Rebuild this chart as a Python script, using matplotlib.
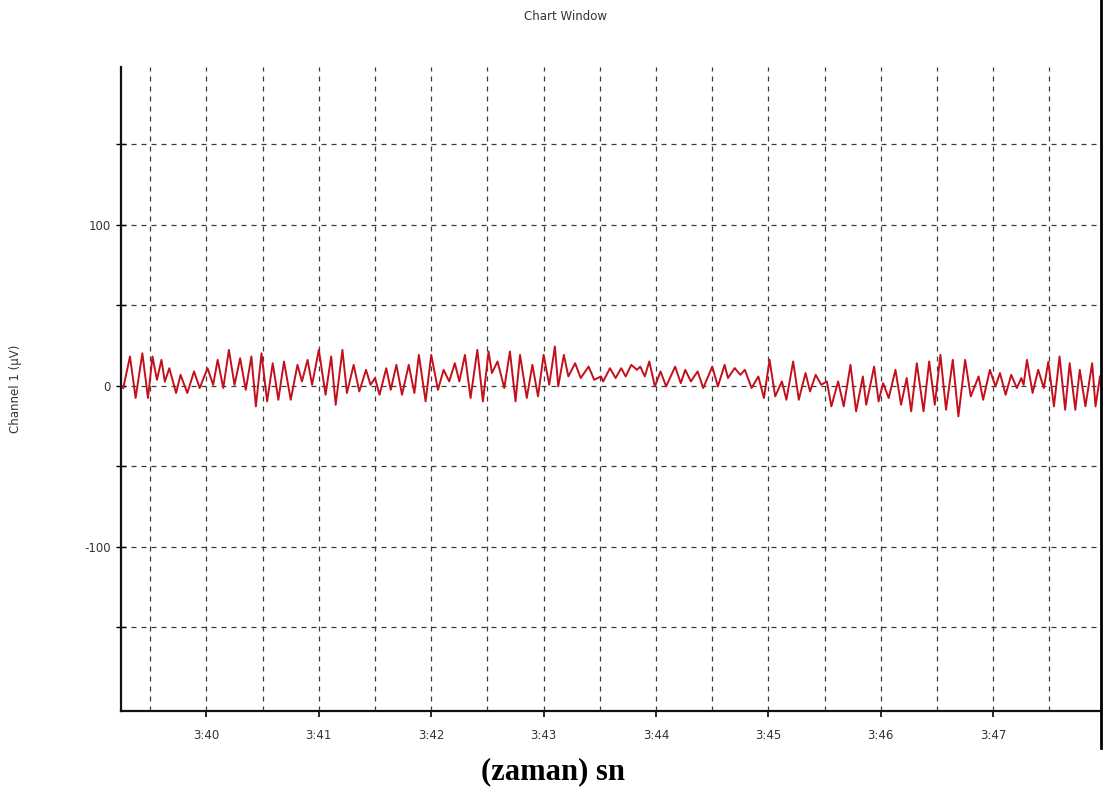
import matplotlib.pyplot as plt
from matplotlib.lines import Line2D
from matplotlib.ticker import FixedLocator, FuncFormatter

plt.rcParams['axes.unicode_minus'] = False

# Channel 1 trace: turning points of the EEG signal (time in s of the minute, value in uV)
t_sec = [219.26, 219.32, 219.37, 219.43, 219.48, 219.52, 219.56, 219.60, 219.63, 219.67,
         219.73, 219.77, 219.83, 219.89, 219.94, 220.01, 220.06, 220.10, 220.15, 220.20,
         220.25, 220.30, 220.35, 220.40, 220.44, 220.49, 220.54, 220.59, 220.64, 220.69,
         220.75, 220.81, 220.85, 220.90, 220.94, 221.00, 221.06, 221.11, 221.15, 221.21,
         221.25, 221.31, 221.36, 221.42, 221.46, 221.50, 221.54, 221.60, 221.64, 221.69,
         221.74, 221.80, 221.85, 221.89, 221.95, 222.00, 222.06, 222.11, 222.16, 222.21,
         222.25, 222.30, 222.35, 222.41, 222.46, 222.51, 222.54, 222.59, 222.65, 222.70,
         222.75, 222.79, 222.85, 222.90, 222.95, 223.00, 223.05, 223.10, 223.13, 223.18,
         223.22, 223.28, 223.33, 223.40, 223.45, 223.51, 223.53, 223.59, 223.64, 223.69,
         223.73, 223.78, 223.83, 223.86, 223.90, 223.94, 223.99, 224.04, 224.09, 224.17,
         224.22, 224.26, 224.31, 224.37, 224.42, 224.50, 224.55, 224.61, 224.64, 224.70,
         224.75, 224.79, 224.85, 224.91, 224.96, 225.01, 225.06, 225.12, 225.16, 225.22,
         225.27, 225.33, 225.37, 225.42, 225.47, 225.52, 225.56, 225.62, 225.67, 225.73,
         225.78, 225.84, 225.87, 225.94, 225.98, 226.02, 226.07, 226.13, 226.18, 226.23,
         226.27, 226.32, 226.38, 226.43, 226.48, 226.53, 226.58, 226.64, 226.69, 226.75,
         226.80, 226.87, 226.91, 226.97, 227.02, 227.06, 227.11, 227.16, 227.21, 227.25,
         227.27, 227.30, 227.35, 227.40, 227.45, 227.49, 227.54, 227.59, 227.64, 227.68,
         227.73, 227.77, 227.82, 227.88, 227.91, 227.95]
uv = [-1.4, 18.2, -7.6, 20.2, -7.6, 18.2, 3.7, 16.1, 2.5, 10.9,
      -4.5, 6.8, -4.5, 8.9, -1.4, 10.9, 0.6, 16.1, -1.4, 22.3,
      0.6, 17.1, -2.5, 18.2, -12.8, 20.2, -9.7, 14.0, -8.7, 15.1,
      -8.7, 13.0, 2.7, 16.1, 0.6, 22.3, -5.6, 18.2, -11.8, 22.3,
      -4.5, 13.0, -3.5, 9.9, 0.6, 4.8, -5.6, 10.9, -2.5, 13.0,
      -5.6, 13.0, -4.5, 19.2, -9.7, 19.2, -2.5, 9.9, 2.7, 14.0,
      2.7, 19.2, -7.6, 22.3, -9.7, 21.3, 7.9, 15.1, -1.4, 21.3,
      -9.7, 19.2, -7.6, 13.0, -6.6, 19.2, 0.6, 24.4, -0.4, 19.2,
      5.8, 14.0, 4.8, 11.9, 3.7, 5.8, 2.7, 10.9, 4.8, 10.9,
      5.8, 13.0, 9.9, 11.9, 5.8, 15.1, -0.4, 8.9, -0.4, 11.9,
      1.6, 9.9, 2.7, 8.9, -1.4, 11.9, -0.4, 13.0, 4.8, 11.0,
      6.8, 9.9, -1.4, 5.8, -7.6, 16.1, -6.6, 2.7, -8.7, 15.1,
      -8.7, 7.9, -3.5, 6.8, 0.6, 2.7, -12.8, 2.7, -12.8, 13.0,
      -15.9, 5.8, -11.8, 11.9, -9.7, 1.6, -7.6, 9.9, -11.8, 4.8,
      -15.9, 14.0, -15.9, 15.1, -11.8, 19.2, -14.9, 16.1, -19.0, 16.1,
      -6.6, 5.8, -8.7, 9.9, -0.4, 7.9, -5.6, 6.8, -1.4, 4.8,
      0.6, 16.1, -4.5, 9.9, -1.4, 14.9, -12.8, 18.2, -14.9, 14.0,
      -14.9, 9.9, -12.8, 14.0, -12.8, 5.8]

x_major = [220, 221, 222, 223, 224, 225, 226, 227]
x_half = [219.5, 220.5, 221.5, 222.5, 223.5, 224.5, 225.5, 226.5, 227.5]
y_major = [-100, 0, 100]
y_minor = [-150, -50, 50, 150]

fig = plt.figure(figsize=(11.07, 7.95), dpi=100)
ax = fig.add_axes([0.1093, 0.1057, 0.8844, 0.81])

ax.plot(t_sec, uv, color='#c4101c', lw=1.4, zorder=3)

ax.set_xlim(219.24, 227.95)
ax.set_ylim(-202, 198)

ax.xaxis.set_major_locator(FixedLocator(x_major))
ax.xaxis.set_minor_locator(FixedLocator(x_half))
ax.xaxis.set_major_formatter(FuncFormatter(lambda v, p: f"{int(v) // 60}:{int(v) % 60:02d}"))
ax.yaxis.set_major_locator(FixedLocator(y_major))
ax.yaxis.set_minor_locator(FixedLocator(y_minor))

grid_kw = dict(color='#3a3a3a', lw=0.9, linestyle=(0, (4, 4)))
ax.grid(True, which='both', **grid_kw)
ax.set_axisbelow(True)

ax.tick_params(axis='x', which='major', direction='out', length=4, width=1.2,
               labelsize=8.5, labelcolor='#333333', pad=9)
ax.tick_params(axis='x', which='minor', length=0)
ax.tick_params(axis='y', which='both', direction='inout', length=7, width=1.0,
               labelsize=8.5, labelcolor='#333333', pad=4)

for side in ['top', 'right']:
    ax.spines[side].set_visible(False)
for side in ['left', 'bottom']:
    ax.spines[side].set_linewidth(1.6)
    ax.spines[side].set_color('#111111')

ax.set_ylabel('Channel 1 (µV)', fontsize=8.5, color='#333333')
ax.yaxis.set_label_coords(-(121 - 22) / (0.8844 * 1107), 0.5)

fig.text(565 / 1107, 1 - 17 / 795, 'Chart Window', ha='center', va='center',
         fontsize=8.5, color='#333333')
fig.text(553 / 1107, 1 - 772 / 795, '(zaman) sn', ha='center', va='center',
         fontsize=22, fontweight='bold', family='Liberation Serif', color='black')

# window border on the right edge
fig.add_artist(Line2D([1101 / 1107, 1101 / 1107], [1.0, 1 - 748 / 795],
                      transform=fig.transFigure, color='black', lw=2))

fig.savefig('out.png', dpi=100, facecolor='white')
